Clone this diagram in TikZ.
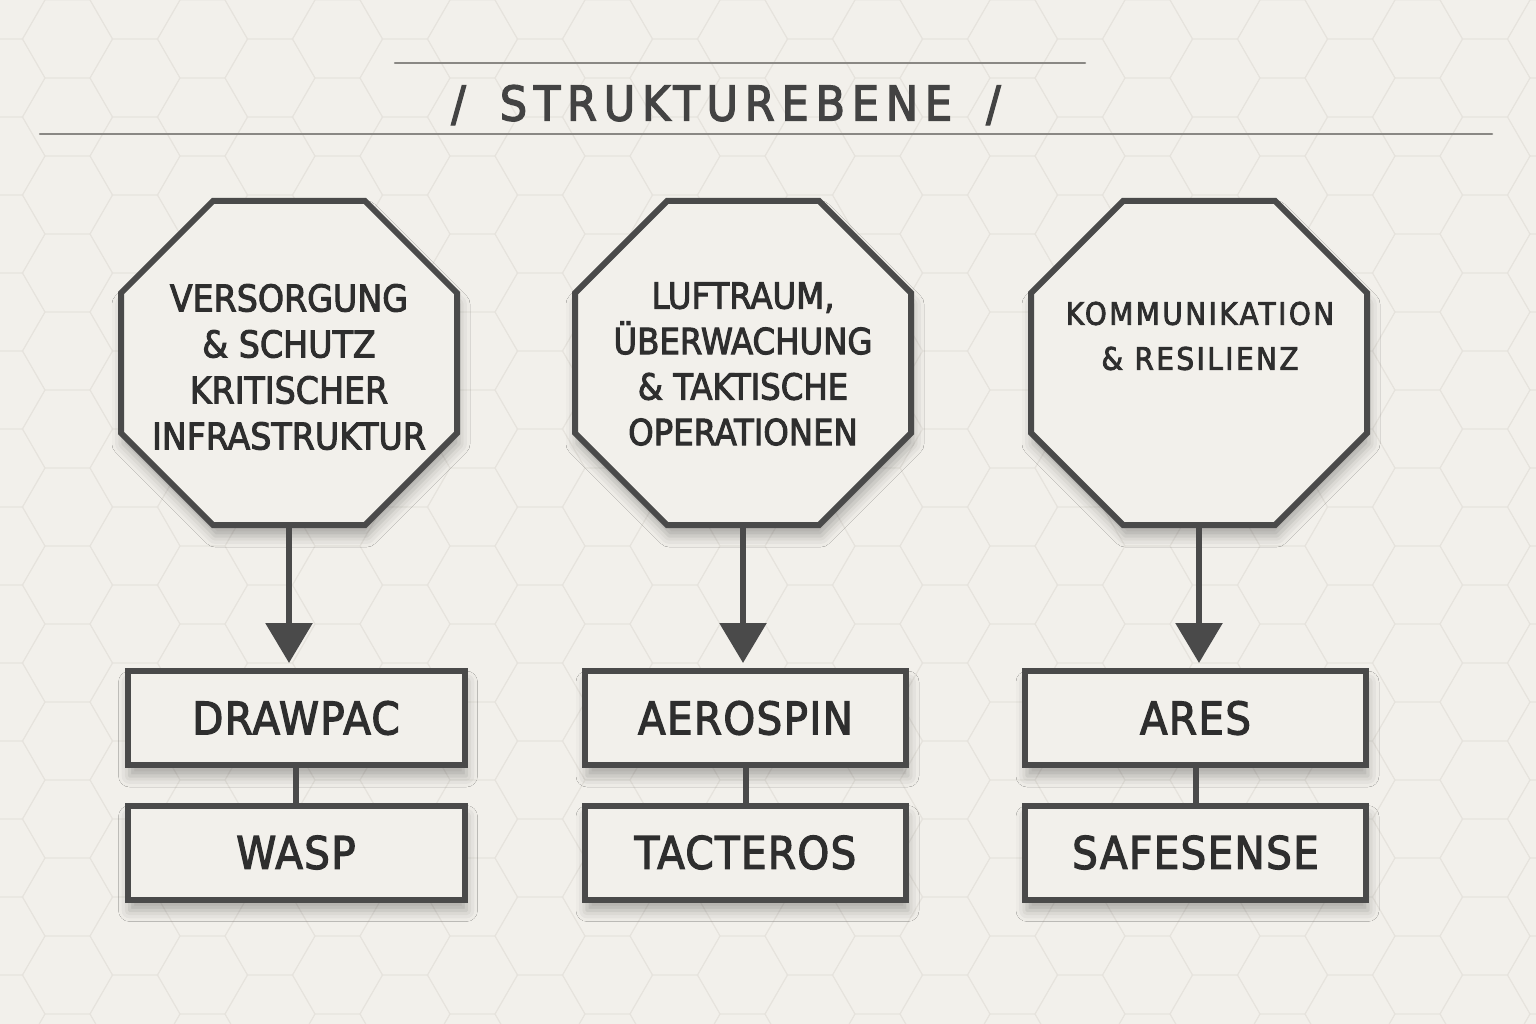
\documentclass[tikz,border=0pt]{standalone}
\usepackage{fontspec}
\setmainfont{DejaVu Sans Condensed}[FakeBold=2.6]
\usetikzlibrary{arrows.meta,shadows.blur,calc}
\definecolor{paper}{HTML}{F2F0EB}
\definecolor{ink}{HTML}{4A4A4A}
\definecolor{txt}{HTML}{2E2E2E}
\definecolor{hexc}{HTML}{E6E3DD}
\definecolor{rulec}{HTML}{8A8884}
\newcommand\octpath[2]{(#1-76,#2-162) -- (#1+76,#2-162) -- (#1+168,#2-70) -- (#1+168,#2+70) -- (#1+76,#2+162) -- (#1-76,#2+162) -- (#1-168,#2+70) -- (#1-168,#2-70) -- cycle}
\begin{document}
\begin{tikzpicture}[x=1pt,y=-1pt,
  shapeline/.style={draw=ink, line width=6pt, fill=paper, line join=miter},
  shad/.style={blur shadow={shadow xshift=2pt, shadow yshift=-11pt, shadow blur radius=11pt, shadow opacity=30}},
  octframe/.style={minimum width=342pt, minimum height=330pt, inner sep=0pt, draw=none},
  octtext/.style={text=txt, align=center, inner sep=0pt},
  boxnode/.style={shapeline, shad, minimum height=94pt, text=txt, inner sep=0pt, font=\fontsize{45}{50}\selectfont\addfontfeatures{LetterSpace=3}},
  conn/.style={draw=ink, line width=6pt},
  arrowline/.style={draw=ink, line width=6pt, shorten >=5pt, -{Triangle[width=46pt,length=40pt]}},
  rule/.style={draw=rulec, line width=2.5pt, line cap=round},
]
\useasboundingbox (0,0) rectangle (1536,1024);
\fill[paper] (0,0) rectangle (1536,1024);
% faint hexagon pattern
\begin{scope}
\clip (0,0) rectangle (1536,1024);
\foreach \i in {0,...,23}{
  \foreach \j in {0,...,13}{
    \pgfmathsetmacro\cx{\i*67.5}
    \pgfmathsetmacro\cy{\j*78+mod(\i,2)*39}
    \draw[hexc, line width=0.9pt] (\cx+45,\cy) -- (\cx+22.5,\cy+39) -- (\cx-22.5,\cy+39) -- (\cx-45,\cy) -- (\cx-22.5,\cy-39) -- (\cx+22.5,\cy-39) -- cycle;
  }
}
\end{scope}
% title
\coordinate (r1a) at (395,63);
\coordinate (r1b) at (1085,63);
\coordinate (r2a) at (40,134);
\coordinate (r2b) at (1492,134);
\draw[rule] (r1a) -- (r1b);
\draw[rule] (r2a) -- (r2b);
\node[text=txt!90, font=\fontsize{48}{50}\selectfont\addfontfeatures{LetterSpace=14}] (title) at (726,105) {/\hspace{34pt}STRUKTUREBENE\hspace{34pt}/};
% octagons
\node[octframe] (O1) at (289,363) {};
\node[octframe] (O2) at (743,363) {};
\node[octframe] (O3) at (1199,363) {};
\path[shapeline, shad] \octpath{289}{363};
\path[shapeline, shad] \octpath{743}{363};
\path[shapeline, shad] \octpath{1199}{363};
\node[octtext, font=\fontsize{37}{46}\selectfont] (T1) at (289,367) {VERSORGUNG\\\& SCHUTZ\\KRITISCHER\\INFRASTRUKTUR};
\node[octtext, font=\fontsize{36}{45.5}\selectfont] (T2) at (743,364) {LUFTRAUM,\\ÜBERWACHUNG\\\& TAKTISCHE\\OPERATIONEN};
\node[octtext, font=\fontsize{31}{45}\selectfont\addfontfeatures{LetterSpace=8}] (T3) at (1200,336) {KOMMUNIKATION\\\& RESILIENZ};
% boxes
\node[boxnode, minimum width=337pt] (B1) at (296,718) {DRAWPAC};
\node[boxnode, minimum width=337pt] (C1) at (296,852.5) {WASP};
\node[boxnode, minimum width=321pt] (B2) at (745.5,718) {AEROSPIN};
\node[boxnode, minimum width=321pt] (C2) at (745.5,852.5) {TACTEROS};
\node[boxnode, minimum width=341pt] (B3) at (1195.5,718) {ARES};
\node[boxnode, minimum width=341pt] (C3) at (1195.5,852.5) {SAFESENSE};
% connectors
\draw[conn] (B1.south) -- (C1.north);
\draw[conn] (B2.south) -- (C2.north);
\draw[conn] (B3.south) -- (C3.north);
\draw[arrowline] (O1.south) -- (O1.south |- B1.north);
\draw[arrowline] (O2.south) -- (O2.south |- B2.north);
\draw[arrowline] (O3.south) -- (O3.south |- B3.north);
\end{tikzpicture}
\end{document}
